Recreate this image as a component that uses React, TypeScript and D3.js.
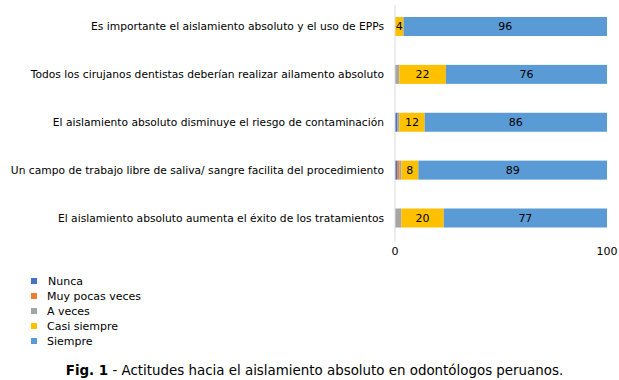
import React from "react";
import * as d3 from "d3";

const categories = [
  "Es importante el aislamiento absoluto y el uso de EPPs",
  "Todos los cirujanos dentistas deberían realizar ailamento absoluto",
  "El aislamiento absoluto disminuye el riesgo de contaminación",
  "Un campo de trabajo libre de saliva/ sangre facilita del procedimiento",
  "El aislamiento absoluto aumenta el éxito de los tratamientos",
];
const seriesNames = ["Nunca", "Muy pocas veces", "A veces", "Casi siempre", "Siempre"];
const nunca = [0, 0, 1, 1, 0];
const muyPocas = [0, 0, 0, 1, 0];
const aVeces = [0, 2, 1, 1, 3];
const casiSiempre = [4, 22, 12, 8, 20];
const siempre = [96, 76, 86, 89, 77];
const colors = ["#4472C4", "#ED7D31", "#A5A5A5", "#FFC000", "#5B9BD5"];
const showLabels = [false, false, false, true, true];
const xTicks = [0, 100];
const caption = " - Actitudes hacia el aislamiento absoluto en odontólogos peruanos.";

const FONT = "'DejaVu Sans', Verdana, sans-serif";

export default function App() {
  const W = 619, H = 380;
  const x = d3.scaleLinear().domain([0, 100]).range([395, 607]);
  const y = d3.scalePoint<string>().domain(categories).range([26.5, 218]);
  const barH = 19;
  const series = [nunca, muyPocas, aVeces, casiSiempre, siempre];
  const table = categories.map((c, i) => {
    const o: any = { cat: c };
    seriesNames.forEach((s, j) => (o[s] = series[j][i]));
    return o;
  });
  const stacked = d3.stack().keys(seriesNames)(table as any);

  return (
    <svg width={W} height={H} style={{ position: "absolute", left: 0, top: 0, background: "#fff" }} fontFamily={FONT}>
      {stacked.map((layer, j) => (
        <g key={j} fill={colors[j]}>
          {layer.map((d, i) => {
            const w = x(d[1]) - x(d[0]);
            if (w <= 0) return null;
            const cy = y(categories[i])!;
            return (
              <g key={i}>
                <rect x={x(d[0])} y={cy - barH / 2} width={w} height={barH} />
                {showLabels[j] && (
                  <text x={(x(d[0]) + x(d[1])) / 2} y={cy} dy="0.35em" textAnchor="middle" fontSize={11} fill="#000">
                    {d[1] - d[0]}
                  </text>
                )}
              </g>
            );
          })}
        </g>
      ))}
      <line x1={x(0)} x2={x(0)} y1={5} y2={242} stroke="#d9d9d9" strokeWidth={1} />
      {categories.map((c) => (
        <text key={c} x={384} y={y(c)!} dy="0.35em" textAnchor="end" fontSize={10.7} fill="#000">
          {c}
        </text>
      ))}
      {xTicks.map((t) => (
        <text key={t} x={x(t)} y={251} dy="0.35em" textAnchor="middle" fontSize={11} fill="#000">
          {t}
        </text>
      ))}
      {seriesNames.map((s, j) => (
        <g key={s} transform={`translate(0,${281 + j * 15})`}>
          <rect x={31} y={-3} width={6} height={6} fill={colors[j]} />
          <text x={j === 0 ? 48 : 47} y={0} dy="0.35em" fontSize={11} fill="#000">
            {s}
          </text>
        </g>
      ))}
      <text x={314.5} y={370} dy="0.35em" textAnchor="middle" fontSize={13.4} fill="#000">
        <tspan fontWeight="bold">Fig. 1</tspan>
        {caption}
      </text>
    </svg>
  );
}
